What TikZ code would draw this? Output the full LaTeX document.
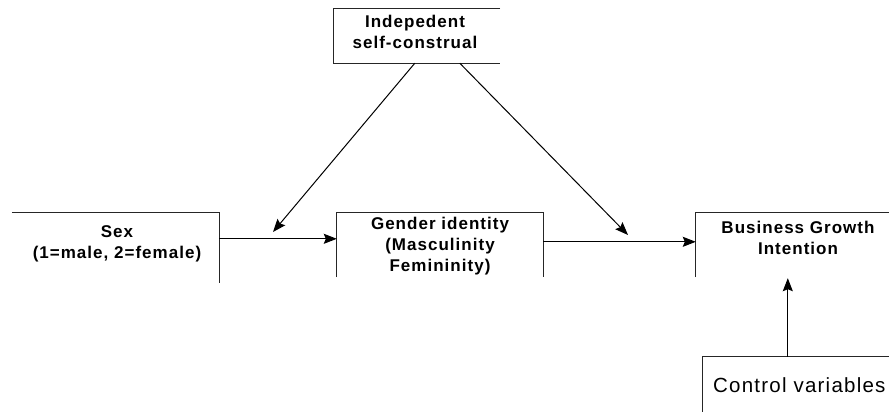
\documentclass[tikz,border=0pt]{standalone}
\usepackage{fontspec}
\setmainfont{Liberation Sans}
\newfontfamily\lblfont[LetterSpace=6]{Liberation Sans}
\usetikzlibrary{arrows.meta,calc}
\begin{document}
\begin{tikzpicture}[x=1pt,y=-1pt,
  boxline/.style={draw=black!85, line width=1pt},
  frame/.style={inner sep=0pt, minimum width=#1},
  lbl/.style={font=\lblfont\fontsize{17}{21}\selectfont\bfseries, align=center, inner sep=0pt},
  conn/.style={line width=1pt, -{Stealth[length=13pt,width=10pt,inset=2pt]}}]
\useasboundingbox[fill=white] (0,0) rectangle (889,412);
% frames
\node[frame=166pt, minimum height=54pt] (topbox) at (417,36) {};
\node[frame=207pt, minimum height=70pt] (sexbox) at (115.5,248) {};
\node[frame=206pt, minimum height=64pt] (genbox) at (440,245) {};
\node[frame=193pt, minimum height=64pt] (bgbox) at (792.5,245) {};
\node[frame=186pt, minimum height=55pt] (cbox) at (796,384.5) {};
% labels
\node[lbl] (top) at (415,32) {Indepedent\\self-construal};
\node[lbl] (sex) at (117,244) {Sex\\(1=male, 2=female)};
\node[lbl] (gen) at (440,246) {Gender identity\\(Masculinity\\Femininity)};
\node[lbl] (bg) at (798,238) {Business Growth\\Intention};
\node[font=\lblfont\fontsize{20.5}{24}\selectfont, anchor=west, inner sep=0pt] (ctrl) at (713,385) {Control variables};
% partial outlines
\draw[boxline] (topbox.north east) -- (topbox.north west) -- (topbox.south west) -- (topbox.south east);
\draw[boxline] (sexbox.north west) -- (sexbox.north east) -- (sexbox.south east);
\draw[boxline] (genbox.south west) -- (genbox.north west) -- (genbox.north east) -- (genbox.south east);
\draw[boxline] (bgbox.south west) -- (bgbox.north west) -- (bgbox.north east);
\draw[boxline] (cbox.south west) -- (cbox.north west) -- (cbox.north east);
% free ends
\coordinate (m1) at (273,232);
\coordinate (m2) at (628,235);
% connectors
\draw[conn] ([yshift=-26pt]sexbox.north east) -- ([yshift=-26pt]genbox.north west);
\draw[conn] ([yshift=-29pt]genbox.north east) -- ([yshift=-29pt]bgbox.north west);
\draw[conn] ([xshift=81pt]topbox.south west) -- (m1);
\draw[conn] ([xshift=126pt]topbox.south west) -- (m2);
\draw[conn] ([xshift=85pt]cbox.north west) -- ([xshift=85pt,yshift=-1pt]cbox.north west |- bgbox.south);
\end{tikzpicture}
\end{document}
